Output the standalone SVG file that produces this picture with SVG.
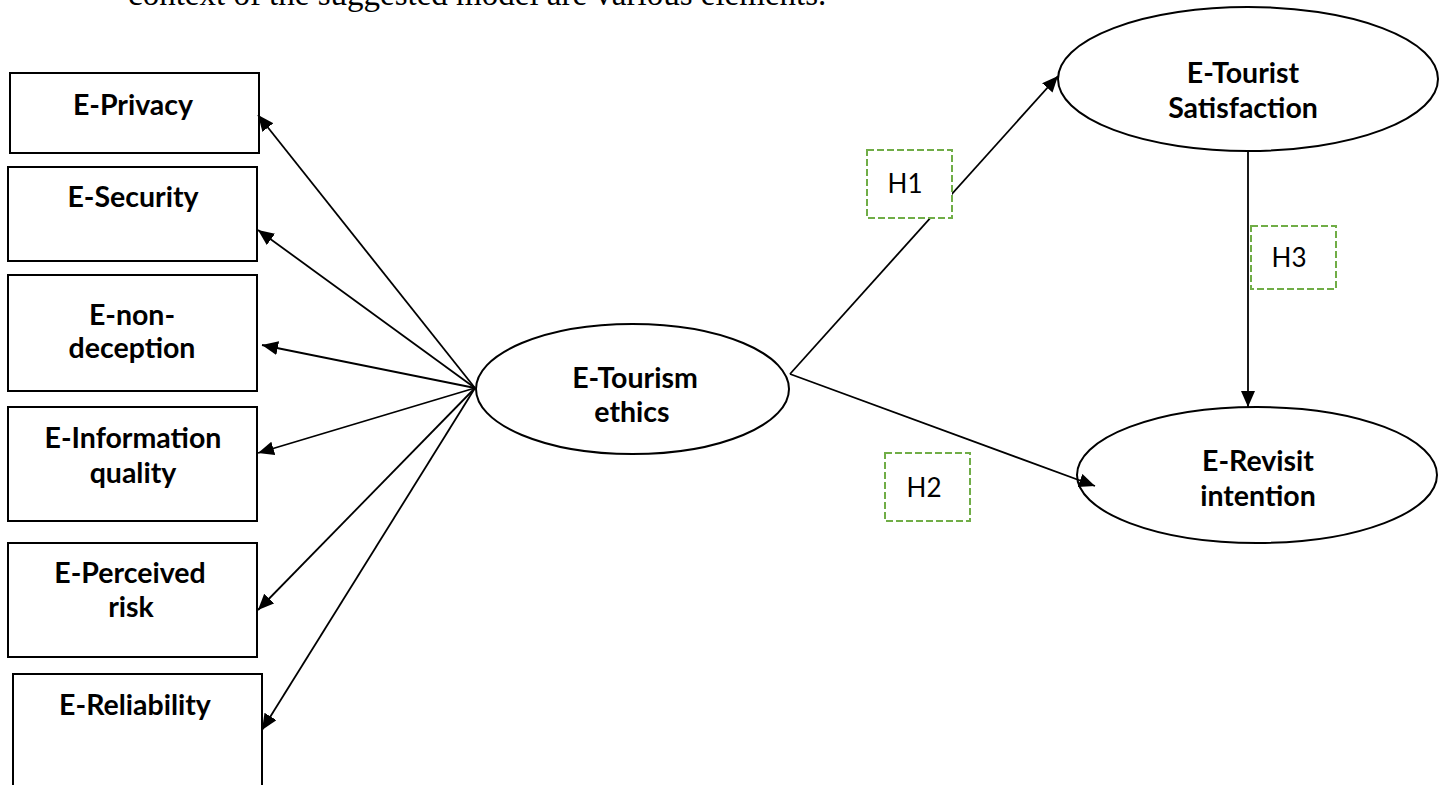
<svg xmlns="http://www.w3.org/2000/svg" width="1446" height="785" viewBox="0 0 1446 785">
<defs>
<marker id="ah" markerUnits="userSpaceOnUse" markerWidth="18" markerHeight="16" refX="16" refY="7" orient="auto">
<path d="M0,0 L16,7 L0,14 z" fill="#000"/>
</marker>
<style>
.box{fill:#fff;stroke:#000;stroke-width:2}
.ell{fill:#fff;stroke:#000;stroke-width:2}
.lbl{font-family:Lato,"Liberation Sans",sans-serif;font-weight:bold;font-size:28.5px;fill:#000;text-anchor:middle}
.h{fill:#fff;stroke:#70AD47;stroke-width:2;stroke-dasharray:7,3}
.ht{font-family:Lato,"Liberation Sans",sans-serif;font-size:26px;fill:#000;text-anchor:middle}
.con{stroke:#000;stroke-width:1.8;fill:none;marker-end:url(#ah)}
.body{font-family:"Liberation Serif","Times New Roman",serif;font-size:33px;fill:#000}
</style>
</defs>
<rect width="1446" height="785" fill="#fff"/>
<text class="body" x="128" y="5">context of the suggested model are various elements.</text>

<g id="e-privacy"><rect class="box" x="10" y="73" width="249" height="80"/><text class="lbl" x="133" y="115">E-Privacy</text></g>
<g id="e-security"><rect class="box" x="8" y="167" width="249" height="94"/><text class="lbl" x="133" y="207">E-Security</text></g>
<g id="e-non-deception"><rect class="box" x="8" y="275" width="249" height="116"/><text class="lbl" x="132" y="325">E-non-</text><text class="lbl" x="132" y="358">deception</text></g>
<g id="e-information-quality"><rect class="box" x="8" y="407" width="249" height="114"/><text class="lbl" x="133" y="448">E-Information</text><text class="lbl" x="133" y="483">quality</text></g>
<g id="e-perceived-risk"><rect class="box" x="8" y="543" width="249" height="114"/><text class="lbl" x="130" y="583">E-Perceived</text><text class="lbl" x="131" y="617">risk</text></g>
<g id="e-reliability"><rect class="box" x="13" y="674" width="249" height="130"/><text class="lbl" x="135" y="715">E-Reliability</text></g>

<g id="e-tourism-ethics"><ellipse class="ell" cx="632.5" cy="389" rx="156.5" ry="65"/><text class="lbl" x="635" y="388">E-Tourism</text><text class="lbl" x="632" y="422">ethics</text></g>
<g id="e-tourist-satisfaction"><ellipse class="ell" cx="1248" cy="79" rx="190" ry="72"/><text class="lbl" x="1243" y="83">E-Tourist</text><text class="lbl" x="1243" y="118">Satisfaction</text></g>
<g id="e-revisit-intention"><ellipse class="ell" cx="1257" cy="475" rx="180" ry="68"/><text class="lbl" x="1258" y="471">E-Revisit</text><text class="lbl" x="1258" y="506">intention</text></g>

<g id="connectors">
<line class="con" x1="475" y1="388" x2="258" y2="115"/>
<line class="con" x1="475" y1="388" x2="258" y2="230"/>
<line class="con" x1="475" y1="388" x2="262" y2="345"/>
<line class="con" x1="475" y1="388" x2="258" y2="453"/>
<line class="con" x1="475" y1="388" x2="258" y2="610"/>
<line class="con" x1="475" y1="388" x2="262" y2="730"/>
<line class="con" x1="790" y1="374" x2="1058" y2="76"/>
<line class="con" x1="790" y1="374" x2="1095" y2="486"/>
<line class="con" x1="1248" y1="151" x2="1248" y2="407"/>
</g>

<g id="h1"><rect class="h" x="867" y="150" width="85" height="68"/><text class="ht" x="905" y="193">H1</text></g>
<g id="h2"><rect class="h" x="885" y="453" width="85" height="68"/><text class="ht" x="924" y="497">H2</text></g>
<g id="h3"><rect class="h" x="1251" y="226" width="85" height="63"/><text class="ht" x="1289" y="267">H3</text></g>
</svg>
